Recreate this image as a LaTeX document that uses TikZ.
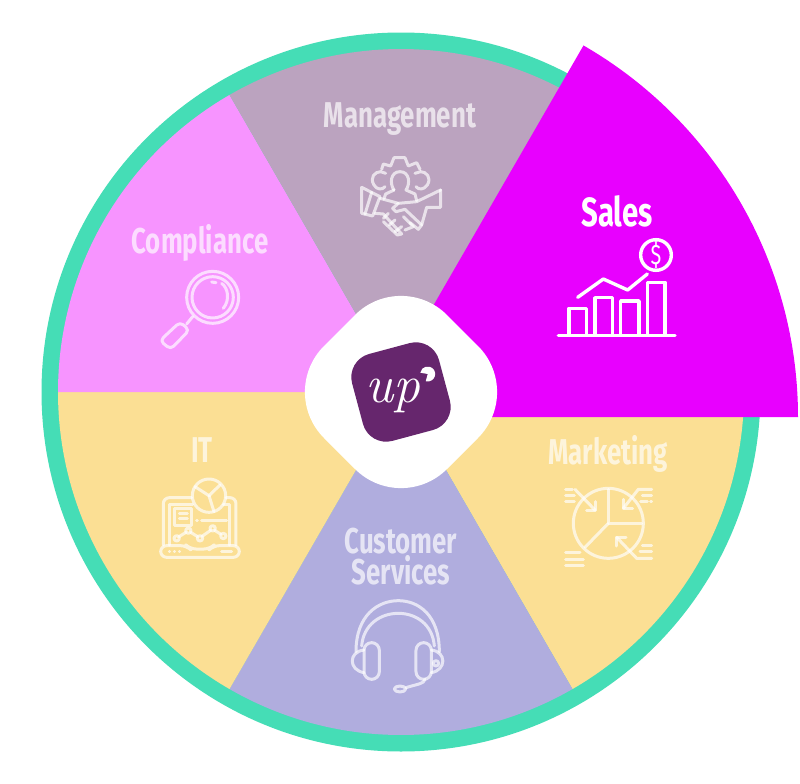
\documentclass[tikz,border=0pt]{standalone}
\usepackage{fontspec}
\newfontfamily\labelfont[FakeStretch=0.72]{Fira Sans}
\usetikzlibrary{positioning}
\definecolor{ringgreen}{HTML}{45DDB6}
\definecolor{mgmtmauve}{HTML}{BBA3BF}
\definecolor{compink}{HTML}{F794FF}
\definecolor{itsand}{HTML}{FBDF94}
\definecolor{custlilac}{HTML}{B0ADDE}
\definecolor{salesmag}{HTML}{E800FF}
\definecolor{logopurple}{HTML}{66266D}
\tikzset{
  every picture/.style={line join=round,line cap=round},
  dept/.style={font=\labelfont\bfseries\fontsize{25.5}{20.6}\selectfont,text=white,text opacity=.68,align=center,anchor=base,inner sep=0pt},
  icon/.style={draw=white,draw opacity=.68,line width=.75mm,fill=none},
  salesicon/.style={draw=white,line width=.85mm,fill=none},
  zoomed/.style={shift={#1},x=0.08333mm,y=-0.08333mm}
}
\begin{document}
\begin{tikzpicture}[x=.25mm,y=-.25mm]
  \useasboundingbox (0,0) rectangle (800,784);
  % ring and slices
  \fill[ringgreen] (401,392) circle (359.5);
  \foreach \from/\shade in {0/itsand,60/custlilac,120/itsand,180/compink,240/mgmtmauve}
    \fill[\shade] (401,392) -- ++(\from:343) arc[start angle=\from,end angle=\from+60,radius=343] -- cycle;
  \fill[salesmag] (369,417) -- (798,417) arc[start angle=0,end angle=-60,radius=429] -- cycle;
  % middle
  \fill[white,rounded corners=16.25mm] (401,269) -- (524,392) -- (401,515) -- (278,392) -- cycle;
  \fill[logopurple,rounded corners=6mm] (345.9,360.2) -- (432.8,336.9) -- (456.1,423.8) -- (369.2,447.1) -- cycle;
  \node[text=white,font=\itshape\fontsize{38}{38}\selectfont,anchor=base,inner sep=0pt] (up) at (393,402) {up};
  \fill[white] (427.7,374) -- ++(105:7.5) arc[start angle=105,end angle=-170,radius=7.5] -- cycle;
  % labels
  \node[dept] (management) at (400,127) {Management};
  \node[dept] (compliance) at (200,253) {Compliance};
  \node[dept] (it) at (202,462) {IT};
  \node[dept] (marketing) at (608,464) {Marketing};
  \node[dept,anchor=center] (customer) at (401,557) {Customer\\Services};
  \node[dept,text opacity=1,font=\labelfont\bfseries\fontsize{29}{32}\selectfont] (sales) at (617,226) {Sales};
  % sales icon
  \begin{scope}[zoomed={(540,180)},salesicon]
    \draw (55,467) -- (405,467);
    \draw (87,465) -- (87,385) -- (140,385) -- (140,465);
    \draw (165,465) -- (165,353) -- (218,353) -- (218,465);
    \draw (242,465) -- (242,363) -- (297,363) -- (297,465);
    \draw (322,465) -- (322,307) -- (375,307) -- (375,465);
    \draw (113,352) -- (190,297) -- (263,330) -- (322,282);
    \draw (348,225) circle (46);
    \node[text=white,font=\labelfont\fontsize{20}{20}\selectfont,inner sep=0pt] (dollar) at (348,225) {\$};
  \end{scope}
  % management icon
  \begin{scope}[zoomed={(320,90)},icon]
    \draw (185,238) -- (190,222) -- (212,228) -- (222,203) -- (255,203) -- (265,228) -- (290,218) -- (300,238);
    \draw (222,300) .. controls (208,280) and (212,245) .. (240,245) .. controls (268,245) and (272,280) .. (258,300) -- (285,312) -- (290,332);
    \draw (222,300) -- (197,312) -- (192,326);
    \draw (195,290) .. controls (188,300) and (170,300) .. (162,285) .. controls (148,262) and (165,245) .. (182,245) -- (197,250);
    \draw (288,290) .. controls (295,300) and (312,300) .. (322,285) .. controls (336,262) and (318,245) .. (302,245) -- (285,250);
    \draw (125,292) -- (180,320) -- (158,378) -- (125,370) -- cycle;
    \draw (155,307) -- (135,372);
    \draw (362,300) -- (290,335) -- (235,340) -- (218,355) -- (228,365) -- (255,358) -- (305,405) -- (295,418) -- (270,398);
    \draw (362,300) -- (362,352) -- (320,352) -- (305,405);
    \draw (180,325) -- (235,340);
    \draw (165,370) -- (190,372) -- (245,432) -- (232,435) -- (190,395);
    \draw (205,370) -- (190,385);
    \draw (225,390) -- (208,405);
    \draw (245,410) -- (225,425);
    \draw (255,420) -- (280,410) -- (250,380);
  \end{scope}
  % compliance icon
  \begin{scope}[zoomed={(120,220)},icon]
    \draw (278,232) circle (78);
    \draw (278,232) circle (62);
    \draw (275,186) -- (288,188);
    \draw (305,190) .. controls (325,205) and (330,240) .. (310,265);
    \draw (218,290) -- (200,312);
    \draw[rounded corners=1.1mm] (180,306) -- (208,330) -- (152,388) -- (120,362) -- cycle;
  \end{scope}
  % it icon
  \begin{scope}[zoomed={(140,430)},icon]
    \draw (207,197) circle (50);
    \draw (165,170) -- (207,197) -- (240,165);
    \draw (207,197) -- (222,245);
    \draw[rounded corners=1.5mm] (70,345) -- (70,203) -- (155,203);
    \draw[rounded corners=1.5mm] (258,203) -- (288,203) -- (288,345);
    \draw (88,345) -- (88,222) -- (158,222);
    \draw (250,222) -- (270,222) -- (270,345);
    \draw[rounded corners=1.5mm] (62,347) -- (140,347) -- (150,357) -- (210,357) -- (220,347) -- (298,347) -- (298,382) -- (62,382) -- cycle;
    \draw (103,235) rectangle (155,285);
    \draw (118,250) -- (142,250);
    \draw (118,265) -- (142,265);
    \draw (170,270) -- (172,270);
    \draw (185,270) -- (260,270);
    \draw (110,325) circle (8);
    \draw (145,302) circle (8);
    \draw (180,325) circle (8);
    \draw (218,295) circle (8);
    \draw (250,318) circle (8);
    \draw (117,320) -- (138,307);
    \draw (152,307) -- (173,320);
    \draw (186,319) -- (212,301);
    \draw (224,301) -- (243,313);
    \draw (88,365) -- (89,365);
    \draw (103,365) -- (104,365);
    \draw (118,365) -- (119,365);
    \draw (245,365) -- (275,365);
  \end{scope}
  % marketing icon
  \begin{scope}[zoomed={(540,430)},icon]
    \draw (205,280) circle (105);
    \draw (205,178) -- (205,280) -- (305,280);
    \draw (205,280) -- (135,352);
    \draw (105,178) -- (165,240);
    \draw (165,215) -- (165,240) -- (140,240);
    \draw (335,178) -- (295,178) -- (250,235);
    \draw (250,208) -- (250,235) -- (278,235);
    \draw (335,385) -- (290,385) -- (230,322);
    \draw (230,348) -- (230,322) -- (258,322);
    \draw (77,178) -- (97,178);
    \draw (77,195) -- (103,195);
    \draw (77,215) -- (103,215);
    \draw (307,195) -- (335,195);
    \draw (302,215) -- (322,215);
    \draw (332,215) -- (335,215);
    \draw (307,347) -- (335,347);
    \draw (300,365) -- (335,365);
    \draw (77,368) -- (120,368);
    \draw (77,387) -- (130,387);
    \draw (77,407) -- (130,407);
  \end{scope}
  % customer services icon
  \begin{scope}[zoomed={(330,520)},icon]
    \draw (78,395) .. controls (78,285) and (145,242) .. (205,242) .. controls (265,242) and (328,285) .. (328,395);
    \draw (95,378) .. controls (100,315) and (150,280) .. (205,280) .. controls (260,280) and (308,315) .. (313,378);
    \draw[rounded corners=1.9mm] (102,368) rectangle (148,478);
    \draw[rounded corners=1.9mm] (258,368) rectangle (304,478);
    \draw (102,390) .. controls (55,395) and (55,450) .. (102,458);
    \draw (304,390) .. controls (350,395) and (350,450) .. (304,458);
    \draw (318,430) circle (8);
    \draw (285,478) .. controls (282,492) and (262,492) .. (228,503);
    \draw (210,507) ellipse (17 and 9);
  \end{scope}
\end{tikzpicture}
\end{document}
